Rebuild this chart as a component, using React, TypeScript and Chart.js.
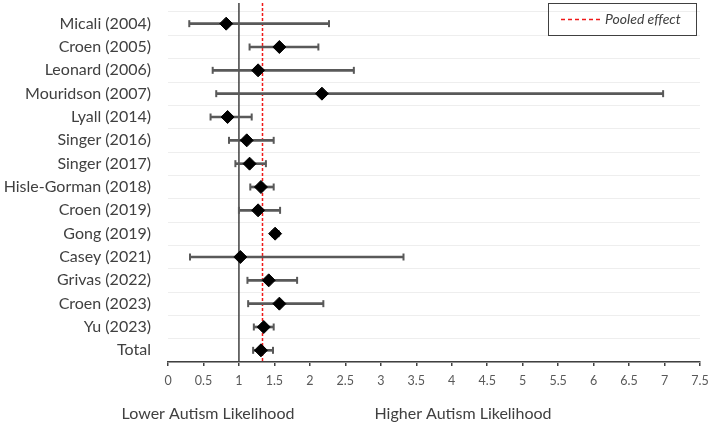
import React, { useEffect, useRef } from "react";
import { Chart, registerables } from "chart.js";

Chart.register(...registerables);

const studies = [
  "Micali (2004)",
  "Croen (2005)",
  "Leonard (2006)",
  "Mouridson (2007)",
  "Lyall (2014)",
  "Singer (2016)",
  "Singer (2017)",
  "Hisle-Gorman (2018)",
  "Croen (2019)",
  "Gong (2019)",
  "Casey (2021)",
  "Grivas (2022)",
  "Croen (2023)",
  "Yu (2023)",
  "Total",
];
const estimates = [0.82, 1.57, 1.27, 2.17, 0.84, 1.11, 1.15, 1.31, 1.27, 1.51, 1.02, 1.42, 1.57, 1.35, 1.31];
const lowerCI = [0.3, 1.15, 0.63, 0.68, 0.6, 0.86, 0.95, 1.16, 1.0, 1.47, 0.31, 1.12, 1.13, 1.21, 1.2];
const upperCI = [2.27, 2.12, 2.62, 6.98, 1.18, 1.49, 1.38, 1.49, 1.58, 1.56, 3.32, 1.82, 2.19, 1.49, 1.48];
const pooledEffect = 1.32;
const nullEffect = 1;
const xTicks = [0, 0.5, 1, 1.5, 2, 2.5, 3, 3.5, 4, 4.5, 5, 5.5, 6, 6.5, 7, 7.5];
const legendLabel = "Pooled effect";
const lowerLabel = "Lower Autism Likelihood";
const higherLabel = "Higher Autism Likelihood";

const FONT = "Lato";
const RED = "#f01818";

const overlayPlugin = {
  id: "forestOverlay",
  beforeDatasetsDraw(chart: any) {
    const { ctx, chartArea, scales } = chart;
    const x = scales.x;
    ctx.save();
    const x1 = x.getPixelForValue(nullEffect);
    ctx.strokeStyle = "#404040";
    ctx.lineWidth = 1.5;
    ctx.beginPath();
    ctx.moveTo(x1, 3);
    ctx.lineTo(x1, chartArea.bottom);
    ctx.stroke();
    const xp = Math.round(x.getPixelForValue(pooledEffect)) + 0.5;
    ctx.strokeStyle = RED;
    ctx.setLineDash([3, 2]);
    ctx.lineWidth = 1.5;
    ctx.beginPath();
    ctx.moveTo(xp, 3);
    ctx.lineTo(xp, chartArea.bottom);
    ctx.stroke();
    ctx.restore();
  },
  afterDraw(chart: any) {
    const { ctx } = chart;
    ctx.save();
    ctx.strokeStyle = "#404040";
    ctx.lineWidth = 1;
    ctx.strokeRect(548.5, 3.5, 148, 32);
    ctx.strokeStyle = RED;
    ctx.lineWidth = 1.5;
    ctx.setLineDash([4, 3]);
    ctx.beginPath();
    ctx.moveTo(561, 19.5);
    ctx.lineTo(600, 19.5);
    ctx.stroke();
    ctx.setLineDash([]);
    ctx.fillStyle = "#404040";
    ctx.font = `italic 14px ${FONT}`;
    ctx.textAlign = "left";
    ctx.textBaseline = "middle";
    ctx.fillText(legendLabel, 605, 19);
    ctx.font = `16px ${FONT}`;
    ctx.textAlign = "center";
    ctx.fillStyle = "#404040";
    ctx.fillText(lowerLabel, 208, 414);
    ctx.fillText(higherLabel, 463, 414);
    ctx.restore();
  },
};

export default function App() {
  const canvasRef = useRef<HTMLCanvasElement | null>(null);

  useEffect(() => {
    document.body.style.margin = "0";
    const canvas = canvasRef.current;
    if (!canvas) return;
    const chart = new Chart(canvas, {
      type: "bar",
      data: {
        labels: studies,
        datasets: [
          {
            type: "bar",
            data: lowerCI.map((l, i) => [l, upperCI[i]]) as any,
            backgroundColor: "#595959",
            borderWidth: 0,
            barThickness: 2,
            indexAxis: "y",
            order: 4,
          } as any,
          {
            type: "line",
            data: lowerCI,
            showLine: false,
            pointStyle: "line",
            rotation: 90,
            pointRadius: 3.5,
            pointBorderWidth: 2,
            borderColor: "#595959",
            backgroundColor: "#595959",
            indexAxis: "y",
            order: 3,
          } as any,
          {
            type: "line",
            data: upperCI,
            showLine: false,
            pointStyle: "line",
            rotation: 90,
            pointRadius: 3.5,
            pointBorderWidth: 2,
            borderColor: "#595959",
            backgroundColor: "#595959",
            indexAxis: "y",
            order: 2,
          } as any,
          {
            type: "line",
            data: estimates,
            showLine: false,
            pointStyle: "rectRot",
            pointRadius: 6.5,
            pointBorderWidth: 1,
            borderColor: "#000000",
            backgroundColor: "#000000",
            indexAxis: "y",
            order: 1,
          } as any,
        ],
      },
      options: {
        indexAxis: "y",
        animation: false,
        responsive: false,
        maintainAspectRatio: false,
        layout: { autoPadding: false, padding: { top: 12, right: 0, left: 0, bottom: 0 } },
        plugins: {
          legend: { display: false },
          tooltip: { enabled: false },
        },
        scales: {
          x: {
            type: "linear",
            min: 0,
            max: 7.5,
            afterBuildTicks: (scale: any) => {
              scale.ticks = xTicks.map((v) => ({ value: v }));
            },
            afterFit: (scale: any) => {
              scale.height = 69;
              scale.paddingLeft = 0;
              scale.paddingRight = 9;
            },
            grid: {
              drawOnChartArea: false,
              drawTicks: true,
              tickLength: 4,
              color: "#404040",
              lineWidth: 1.5,
            },
            border: { display: true, color: "#404040", width: 1.5 },
            ticks: {
              color: "#595959",
              font: { family: FONT, size: 12.5 },
              padding: 7,
              maxRotation: 0,
              autoSkip: false,
              callback: (v: any) => String(v),
            },
          },
          y: {
            type: "category",
            offset: true,
            afterFit: (scale: any) => {
              scale.width = 168;
              scale.paddingTop = 0;
              scale.paddingBottom = 0;
            },
            grid: {
              offset: true,
              drawTicks: false,
              color: "#eeeeee",
              lineWidth: 1,
            },
            border: { display: false },
            ticks: {
              color: "#404040",
              font: { family: FONT, size: 16 },
              padding: 17,
              autoSkip: false,
            },
          },
        },
      } as any,
      plugins: [overlayPlugin],
    });
    return () => chart.destroy();
  }, []);

  return (
    <div style={{ width: 709, height: 431, position: "relative", background: "#fff" }}>
      <canvas ref={canvasRef} width={709} height={431} style={{ width: 709, height: 431 }} />
    </div>
  );
}
